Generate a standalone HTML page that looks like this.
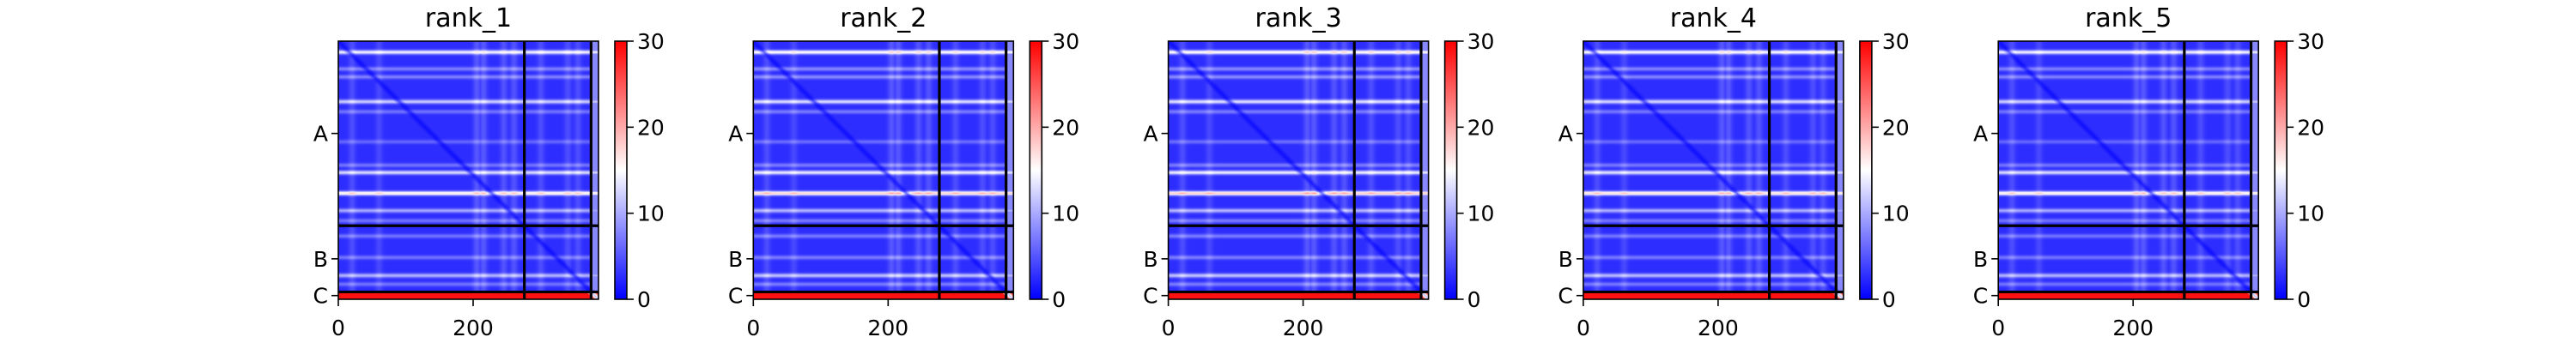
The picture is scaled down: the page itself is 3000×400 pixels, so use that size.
<!DOCTYPE html>
<html><head><meta charset="utf-8"><style>
body{margin:0;background:#fff;}
#root{position:relative;width:3000px;height:400px;overflow:hidden;font-family:"DejaVu Sans","Liberation Sans",sans-serif;}
canvas{position:absolute;}
svg{position:absolute;left:0;top:0;}
</style></head><body>
<div id="root">
<svg id="svg" width="3000" height="400"></svg>
</div>
<script>
// ---- data ----
const panelTitles = ["rank_1","rank_2","rank_3","rank_4","rank_5"];
const chainNames = ["A","B","C"];
const chainStarts = [0,276,375];
const chainEnds = [276,375,386];
const xTickValues = [0,200];
const cbarTicks = [0,10,20,30];
const rowStripeIdx = [16,41,53,90,105,150,185,196,227,253,268,291,323,350,363];
const rowStripeVal = [18,9,9,15,8,7,8,16,21,12,8,8,8,13,8];
const colStripeIdx = [20,60,205,215,245,260,300,340,355];
const colStripeVal = [9,8,11,11,10,10,9,9,9];
const panelRedBoost = [1.0,1.1,1.12,1.05,1.0];
const rowBase = 2.5, cRowVal = 29, vmax = 30;

const N = 386;
const ax0 = 394, axY = 48, axW = 303, axH = 301, spacing = 483.3;
const svg = document.getElementById('svg');
const root = document.getElementById('root');
const NS = "http://www.w3.org/2000/svg";
function mk(tag, attrs, parent){const e=document.createElementNS(NS,tag);for(const k in attrs)e.setAttribute(k,attrs[k]);(parent||svg).appendChild(e);return e;}
function cmap(v){let t=Math.max(0,Math.min(1,v/vmax));
 if(t<0.5){const s=t/0.5;return [Math.round(255*s),Math.round(255*s),255];}
 const s=(t-0.5)/0.5;return [255,Math.round(255*(1-s)),Math.round(255*(1-s))];}
function profile(idx,vals,n,cval,w){const p=new Float32Array(n).fill(rowBase);
 for(let k=0;k<idx.length;k++){for(let i=0;i<n;i++){const d=i-idx[k];const g=Math.exp(-d*d/w);p[i]=Math.max(p[i],rowBase+(vals[k]-rowBase)*g);}}
 if(cval!==null)for(let i=chainStarts[2];i<n;i++)p[i]=cval;return p;}
const rowP = profile(rowStripeIdx,rowStripeVal,N,cRowVal,10);
const colP = profile(colStripeIdx,colStripeVal,N,null,30);
const sx = axW/N, sy = axH/N;

panelTitles.forEach((title,pi)=>{
 const left = ax0 + pi*spacing;
 const cv=document.createElement('canvas');cv.width=N;cv.height=N;
 cv.style.left=left+'px';cv.style.top=axY+'px';cv.style.width=axW+'px';cv.style.height=axH+'px';
 
 
 root.insertBefore(cv,svg);
 const ctx=cv.getContext('2d');const img=ctx.createImageData(N,N);
 for(let i=0;i<N;i++)for(let j=0;j<N;j++){
   let r=rowP[i];if(r>rowBase+1&&i<chainStarts[2])r=rowBase+(r-rowBase)*panelRedBoost[pi];
   let v=i>=chainStarts[2]?r:0.75*r+0.3*colP[j];
   if(j>=chainStarts[2]&&i<chainStarts[2])v=Math.max(v,8);
   const dd=Math.min(1,Math.abs(i-j)/8);v*=0.35+0.65*dd;
   const c=cmap(v);const o=(i*N+j)*4;img.data[o]=c[0];img.data[o+1]=c[1];img.data[o+2]=c[2];img.data[o+3]=255;}
 ctx.putImageData(img,0,0);
 const g=mk('g',{});
 
 
 [chainStarts[1],chainStarts[2]].forEach(b=>{
   const l1=mk('line',{x1:left+b*sx,x2:left+b*sx,y1:axY,y2:axY+axH,stroke:'#000','stroke-width':3.2},g);
   
   
   const l2=mk('line',{x1:left,x2:left+axW,y1:axY+b*sy,y2:axY+b*sy,stroke:'#000','stroke-width':3.2},g);
   
   
 });
 const fr=mk('rect',{x:left,y:axY,width:axW,height:axH,fill:'none',stroke:'#000','stroke-width':1.6},g);
 
 
 const tt=mk('text',{x:left+axW/2,y:31,'text-anchor':'middle','font-size':30,fill:'#000'},g);tt.textContent=title;
 
 
 chainNames.forEach((nm,k)=>{
   const y=axY+(chainStarts[k]+chainEnds[k])/2*sy;
   mk('line',{x1:left-8,x2:left,y1:y,y2:y,stroke:'#000','stroke-width':1.6},g);
   const t=mk('text',{x:left-12,y:y+9,'text-anchor':'end','font-size':25,fill:'#000'},g);t.textContent=nm;
   
   
 });
 xTickValues.forEach(v=>{
   const x=left+v*sx;
   mk('line',{x1:x,x2:x,y1:axY+axH,y2:axY+axH+8,stroke:'#000','stroke-width':1.6},g);
   const t=mk('text',{x:x,y:391,'text-anchor':'middle','font-size':25,fill:'#000'},g);t.textContent=v;
   
   
 });
 const cbx=left+322, cbw=14;
 const gid='grad'+pi;
 const defs=mk('defs',{},g);const lg=mk('linearGradient',{id:gid,x1:0,y1:1,x2:0,y2:0},defs);
 mk('stop',{offset:'0',  'stop-color':'rgb(0,0,255)'},lg);
 mk('stop',{offset:'0.5','stop-color':'rgb(255,255,255)'},lg);
 mk('stop',{offset:'1',  'stop-color':'rgb(255,0,0)'},lg);
 const cb=mk('rect',{x:cbx,y:axY,width:cbw,height:axH,fill:'url(#'+gid+')',stroke:'#000','stroke-width':1.6},g);
 
 
 cbarTicks.forEach(v=>{
   const y=axY+axH-v/vmax*axH;
   mk('line',{x1:cbx+cbw,x2:cbx+cbw+8,y1:y,y2:y,stroke:'#000','stroke-width':1.6},g);
   const t=mk('text',{x:cbx+cbw+12,y:y+9,'font-size':25,fill:'#000'},g);t.textContent=v;
   
   
 });
});
</script>
</body></html>
